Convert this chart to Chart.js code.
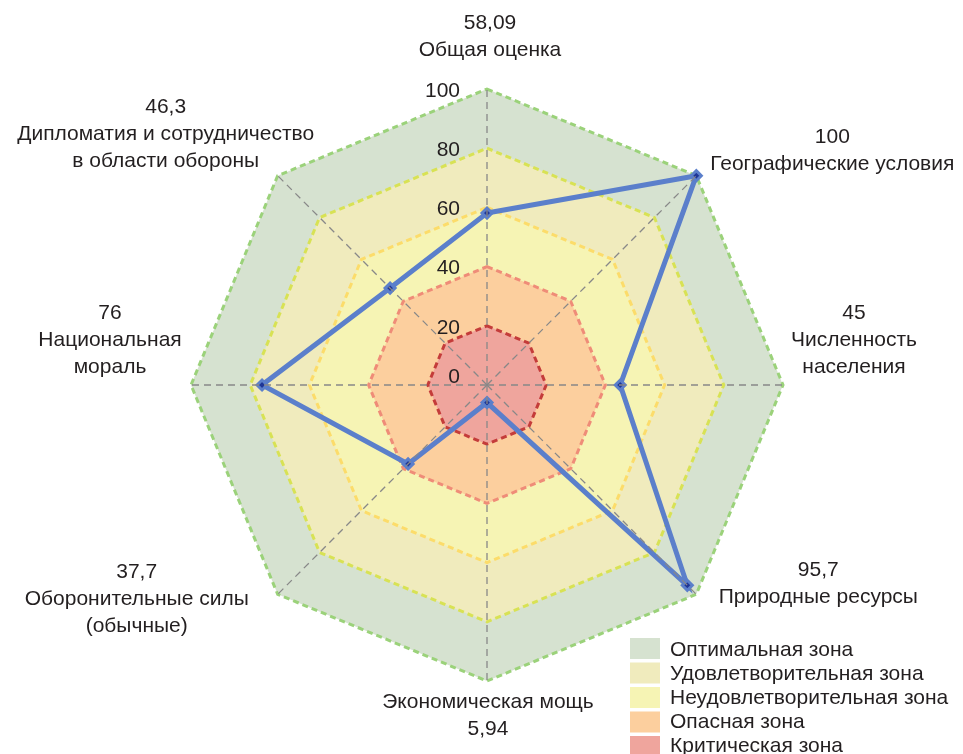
<!DOCTYPE html>
<html lang="ru">
<head>
<meta charset="utf-8">
<title>Оценка потенциала</title>
<script src="https://cdn.jsdelivr.net/npm/chart.js@4.4.1/dist/chart.umd.min.js"></script>
<style>
  html, body { margin: 0; padding: 0; background: #fff; }
  #wrap { position: relative; width: 963px; height: 754px; }
</style>
</head>
<body>
<div id="wrap"><canvas id="radar"></canvas></div>
<script>
// axes, clockwise from the top
const categories = [
    ['Общая оценка'],
    ['Географические условия'],
    ['Численность', 'населения'],
    ['Природные ресурсы'],
    ['Экономическая мощь'],
    ['Оборонительные силы', '(обычные)'],
    ['Национальная', 'мораль'],
    ['Дипломатия и сотрудничество', 'в области обороны']
];
const scores = [58.09, 100, 45, 95.7, 5.94, 37.7, 76, 46.3];

// zone boundaries
const optimalZone        = [100, 100, 100, 100, 100, 100, 100, 100];
const satisfactoryZone   = [80, 80, 80, 80, 80, 80, 80, 80];
const unsatisfactoryZone = [60, 60, 60, 60, 60, 60, 60, 60];
const dangerZone         = [40, 40, 40, 40, 40, 40, 40, 40];
const criticalZone       = [20, 20, 20, 20, 20, 20, 20, 20];

const zoneNames = ['Оптимальная зона', 'Удовлетворительная зона', 'Неудовлетворительная зона', 'Опасная зона', 'Критическая зона'];
const zoneFill = ['#d6e2d0', '#f0ebbd', '#f6f4b4', '#fccf9e', '#efa59d'];
const zoneLine = ['#9bd27a', '#d8e254', '#fcdc6a', '#ef8c78', '#c43c3a'];

// where the first text line of each axis label sits, relative to the 100 point
const labelNudge = [[3, -66], [136, -38], [71, -72], [122, -24], [1, 21], [-141, -22], [-81, -72], [-112, -68]];

const FONT = '21px "Liberation Sans", Arial, sans-serif';
const TEXT = '#231f20';

function labelLines(i) {
    const value = String(scores[i]).replace('.', ',');
    // the bottom axis puts its value under the name
    if (i === 4) return categories[i].concat([value]);
    return [value].concat(categories[i]);
}

function zoneDataset(idx, data) {
    return {
        label: zoneNames[idx],
        data: data,
        fill: true,
        backgroundColor: zoneFill[idx],
        borderColor: zoneLine[idx],
        borderWidth: 3,
        borderDash: [6, 4],
        pointRadius: 0
    };
}

const overlay = {
    id: 'overlay',
    afterDraw(chart) {
        const ctx = chart.ctx;
        const r = chart.scales.r;
        ctx.save();
        ctx.fillStyle = TEXT;
        ctx.font = FONT;
        ctx.textBaseline = 'middle';

        // radial tick labels, left of the vertical axis
        ctx.textAlign = 'right';
        r.ticks.forEach(t => {
            const d = Math.max(r.getDistanceFromCenterForValue(t.value), 10);
            ctx.fillText(t.label, r.xCenter - 27, r.yCenter - d + 2);
        });

        // axis labels with values
        ctx.textAlign = 'center';
        categories.forEach((c, i) => {
            const p = r.getPointPositionForValue(i, 100);
            labelLines(i).forEach((s, k) => {
                ctx.fillText(s, p.x + labelNudge[i][0], p.y + labelNudge[i][1] + k * 27);
            });
        });

        // legend
        ctx.textAlign = 'left';
        zoneNames.forEach((name, k) => {
            ctx.fillStyle = zoneFill[k];
            ctx.fillRect(630, 638 + k * 24.5, 30, 21);
            ctx.fillStyle = TEXT;
            ctx.fillText(name, 670, 650 + k * 24);
        });
        ctx.restore();
    }
};

new Chart(document.getElementById('radar'), {
    type: 'radar',
    data: {
        labels: categories,
        datasets: [
            {
                label: 'Оценка',
                data: scores,
                fill: false,
                borderColor: '#5b7fcb',
                borderWidth: 5,
                pointStyle: 'rectRot',
                pointRadius: 5,
                pointBorderWidth: 3,
                pointBorderColor: '#5b7fcb',
                pointBackgroundColor: '#1f3696'
            },
            zoneDataset(4, criticalZone),
            zoneDataset(3, dangerZone),
            zoneDataset(2, unsatisfactoryZone),
            zoneDataset(1, satisfactoryZone),
            zoneDataset(0, optimalZone)
        ]
    },
    options: {
        responsive: true,
        maintainAspectRatio: false,
        animation: false,
        events: [],
        layout: { padding: { left: 191, top: 89, right: 180, bottom: 73 } },
        plugins: {
            legend: { display: false },
            tooltip: { enabled: false }
        },
        scales: {
            r: {
                min: 0,
                max: 100,
                ticks: { stepSize: 20, display: false },
                grid: { display: false, z: 1 },
                angleLines: {
                    display: true,
                    color: '#888888',
                    lineWidth: 1.3,
                    borderDash: [7, 5]
                },
                pointLabels: { display: false }
            }
        }
    },
    plugins: [overlay]
});
</script>
</body>
</html>
